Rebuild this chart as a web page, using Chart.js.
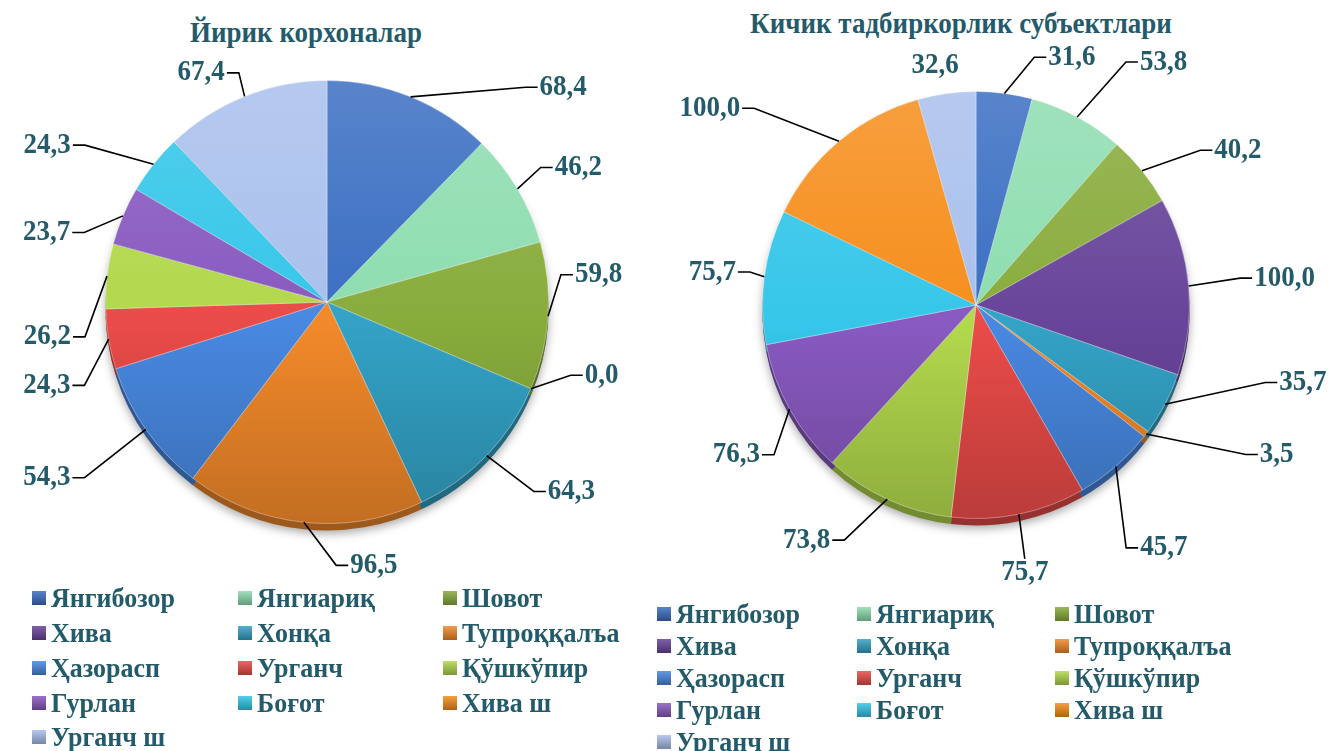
<!DOCTYPE html>
<html><head><meta charset="utf-8">
<script src="https://cdn.jsdelivr.net/npm/chart.js@4/dist/chart.umd.min.js"></script>
<style>
html,body{margin:0;padding:0;background:#fff;width:1329px;height:751px;overflow:hidden;position:relative;font-family:"Liberation Serif","Times New Roman",serif;}
.title{position:absolute;font-weight:bold;font-size:27px;line-height:27px;color:#245B6B;white-space:nowrap;transform:translateX(-50%) scaleY(1.08);}
canvas{position:absolute;left:0;top:0;}
.legend{position:absolute;display:grid;}
.item{display:flex;align-items:center;font-weight:bold;font-size:26px;color:#245B6B;white-space:nowrap;}
.item span.txt{display:inline-block;transform:scaleY(1.08);}
.box{width:14px;height:14px;margin-right:5px;flex:none;}
</style></head>
<body>
<div class="title" id="t1" style="left:306px;top:19px;"></div>
<div class="title" id="t2" style="left:961px;top:10px;"></div>
<canvas id="c1" width="1329" height="751"></canvas>
<canvas id="c2" width="1329" height="751"></canvas>
<div class="legend" id="lg1" style="left:32px;top:581px;grid-template-columns:206px 205px 205px;grid-auto-rows:34.75px;"></div>
<div class="legend" id="lg2" style="left:657px;top:598px;grid-template-columns:200px 198px 200px;grid-auto-rows:32px;"></div>
<script>
// ---- data ----
const categories = ["Янгибозор","Янгиариқ","Шовот","Хива","Хонқа","Тупроққалъа","Ҳазорасп","Урганч","Қўшкўпир","Гурлан","Боғот","Хива ш","Урганч ш"];
const largeEnterprises = [68.4, 46.2, 59.8, 0.0, 64.3, 96.5, 54.3, 24.3, 26.2, 23.7, 24.3, null, 67.4];
const smallBusiness = [31.6, 53.8, 40.2, 100.0, 35.7, 3.5, 45.7, 75.7, 73.8, 76.3, 75.7, 100.0, 32.6];
const chartTitles = ["Йирик корхоналар", "Кичик тадбиркорлик субъектлари"];

// ---- styles ----
const sliceColors = ["#3A6EC2","#8EDDB0","#88AC3C","#68449A","#33A2C6","#F2892A","#4888E0","#E94B48","#B2D84C","#8859C0","#35C6E9","#F68E1C","#A9C0EC"];
const textColor = "#245B6B";
// label placement tweaks: [angle shift from slice middle (deg), distance beyond rim (px), mode]
// mode: 's' text beside elbow, 'c' centred past elbow, 'n' centred without leader
const labelPlacement1 = [[20.6,71,'s'],[-1.5,31,'s'],[-10.3,14,'s'],[-6.3,33,'s'],[-1.4,59,'s'],[-8,42,'s'],[-0.8,78,'s'],[-9.3,35,'s'],[-14.9,23,'s'],[-6.9,31,'s'],[-5.5,67,'s'],null,[0.8,24,'s']];
const labelPlacement2 = [[5.6,41,'s'],[3.4,72,'s'],[4.4,59,'s'],[-0.7,52,'s'],[-12.7,86,'s'],[-8.2,95,'s'],[9.2,72,'s'],[0.7,45,'c'],[4.7,56,'s'],[-7.4,38,'s'],[0.7,15,'s'],[-8.5,83,'s'],[-2.4,16,'n']];

function shade(hex, amt){
  const n = parseInt(hex.slice(1),16);
  let r=(n>>16)&255,g=(n>>8)&255,b=n&255;
  if(amt>=0){r+= (255-r)*amt; g+=(255-g)*amt; b+=(255-b)*amt;}
  else {r*=1+amt; g*=1+amt; b*=1+amt;}
  return `rgb(${Math.round(r)},${Math.round(g)},${Math.round(b)})`;
}
function fmt(v){ return v.toFixed(1).replace('.', ','); }

const depth3d = {
  id:'depth3d',
  beforeDatasetsDraw(chart){
    const ctx = chart.ctx, meta = chart.getDatasetMeta(0);
    const a0 = meta.data[0];
    ctx.save();
    ctx.shadowColor='rgba(0,0,0,0.35)'; ctx.shadowBlur=10; ctx.shadowOffsetY=4;
    ctx.beginPath(); ctx.arc(a0.x, a0.y+6, a0.outerRadius, 0, Math.PI*2); ctx.fillStyle='#777'; ctx.fill();
    ctx.shadowColor='transparent';
    meta.data.forEach((arc,i)=>{
      if(!(arc.endAngle - arc.startAngle > 0)) return;
      ctx.beginPath(); ctx.moveTo(arc.x, arc.y+7);
      ctx.arc(arc.x, arc.y+7, arc.outerRadius, arc.startAngle, arc.endAngle);
      ctx.closePath(); ctx.fillStyle = shade(sliceColors[i], -0.35); ctx.fill();
    });
    ctx.restore();
  }
};

function drawText(ctx, txt, x, y){
  ctx.save(); ctx.translate(x, y); ctx.scale(1, 1.08); ctx.fillText(txt, 0, 0); ctx.restore();
}

const leaderLabels = {
  id:'leaderLabels',
  afterDatasetsDraw(chart, args, opts){
    const ctx = chart.ctx, meta = chart.getDatasetMeta(0), data = chart.data.datasets[0].data;
    ctx.save();
    ctx.font = 'bold 27px "Liberation Serif", "Times New Roman", serif';
    ctx.fillStyle = textColor; ctx.strokeStyle = '#000'; ctx.lineWidth = 1.6;
    meta.data.forEach((arc,i)=>{
      const v = data[i], pl = opts.placement[i]; if(v==null || !pl) return;
      const mid = (arc.startAngle + arc.endAngle)/2;
      const R = arc.outerRadius;
      const px = arc.x + R*Math.cos(mid), py = arc.y + R*Math.sin(mid);
      const la = mid + pl[0]*Math.PI/180, c = Math.cos(la), s = Math.sin(la);
      const ex = arc.x + (R+pl[1])*c, ey = arc.y + (R+pl[1])*s;
      ctx.textBaseline='middle';
      if(pl[2]==='n' || pl[2]==='c'){
        if(pl[2]==='c'){ ctx.beginPath(); ctx.moveTo(px,py); ctx.lineTo(ex,ey); ctx.stroke(); }
        ctx.textAlign='center';
        drawText(ctx, fmt(v), ex, ey + (s<0 ? -14 : 14));
      } else if(c>=0){
        ctx.beginPath(); ctx.moveTo(px,py); ctx.lineTo(ex,ey); ctx.lineTo(ex+12, ey); ctx.stroke();
        ctx.textAlign='left';
        drawText(ctx, fmt(v), ex+14, ey);
      } else {
        ctx.beginPath(); ctx.moveTo(px,py); ctx.lineTo(ex,ey); ctx.lineTo(ex-12, ey); ctx.stroke();
        ctx.textAlign='right';
        drawText(ctx, fmt(v), ex-14, ey);
      }
    });
    ctx.restore();
  }
};

function gradFill(ctx){
  const chart = ctx.chart, area = chart.chartArea, col = sliceColors[ctx.dataIndex];
  if(!area) return col;
  const g = chart.ctx.createLinearGradient(0, area.top, 0, area.bottom);
  g.addColorStop(0, shade(col, 0.15));
  g.addColorStop(0.55, col);
  g.addColorStop(1, shade(col, -0.2));
  return g;
}

function makePie(id, values, padding, placement){
  return new Chart(document.getElementById(id), {
    type:'pie',
    data:{ labels: categories, datasets:[{ data: values, backgroundColor: gradFill, borderColor:'rgba(255,255,255,0.35)', borderWidth:1 }] },
    options:{
      responsive:false, animation:false,
      layout:{ padding },
      plugins:{ legend:{display:false}, title:{display:false}, tooltip:{enabled:false}, leaderLabels:{placement} }
    },
    plugins:[depth3d, leaderLabels]
  });
}

makePie('c1', largeEnterprises, {left:105, right:780, top:80, bottom:227}, labelPlacement1);
makePie('c2', smallBusiness, {left:762, right:139, top:91, bottom:232}, labelPlacement2);

document.getElementById('t1').textContent = chartTitles[0];
document.getElementById('t2').textContent = chartTitles[1];

function buildLegend(id){
  const el = document.getElementById(id);
  categories.forEach((name,i)=>{
    const it = document.createElement('div'); it.className='item';
    const b = document.createElement('span'); b.className='box';
    b.style.background = `linear-gradient(to bottom, ${shade(sliceColors[i],0.15)}, ${shade(sliceColors[i],-0.3)})`;
    const t = document.createElement('span'); t.className='txt'; t.textContent = name;
    it.appendChild(b); it.appendChild(t); el.appendChild(it);
  });
}
buildLegend('lg1'); buildLegend('lg2');
</script>
</body></html>
